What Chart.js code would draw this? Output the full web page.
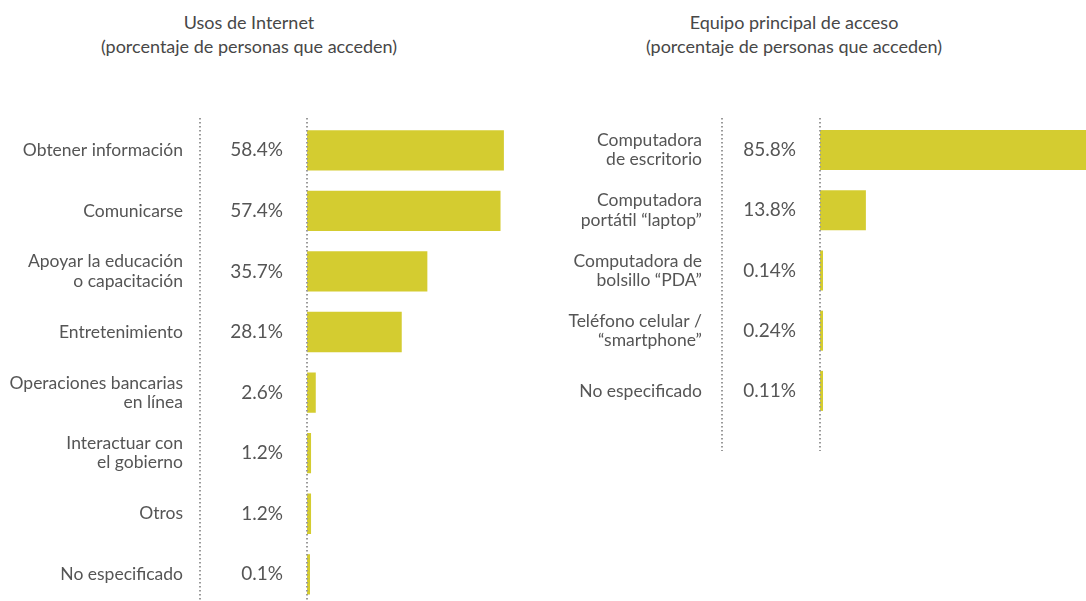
<!DOCTYPE html>
<html lang="es">
<head>
<meta charset="utf-8">
<title>Usos de Internet y equipo de acceso</title>
<script src="https://cdn.jsdelivr.net/npm/chart.js@4.4.0/dist/chart.umd.min.js"></script>
<style>
    html, body { margin: 0; padding: 0; background: #fff; overflow: hidden; }
    body { width: 1086px; height: 601px; position: relative; font-family: Lato, "Open Sans", sans-serif; }
    canvas { position: absolute; top: 0; }
    #usosChart { left: 0; }
    #equipoChart { left: 543px; }
    .panel-title {
        position: absolute; top: 10px; width: 440px; margin: 0;
        text-align: center; font-size: 18px; font-weight: 400; line-height: 24px;
        color: #474747;
    }
</style>
</head>
<body>

<h2 class="panel-title" style="left: 29px;">Usos de Internet<br>(porcentaje de personas que acceden)</h2>
<h2 class="panel-title" style="left: 574px;">Equipo principal de acceso<br>(porcentaje de personas que acceden)</h2>

<!-- the left panel runs past the bottom edge of the page -->
<canvas id="usosChart" width="543" height="640"></canvas>
<canvas id="equipoChart" width="543" height="601"></canvas>

<script>
// ==================== DATA ====================

const usosLabels = [
    'Obtener información',
    'Comunicarse',
    ['Apoyar la educación', 'o capacitación'],
    'Entretenimiento',
    ['Operaciones bancarias', 'en línea'],
    ['Interactuar con', 'el gobierno'],
    'Otros',
    'No especificado'
];
const usosValues = [58.4, 57.4, 35.7, 28.1, 2.6, 1.2, 1.2, 0.1];

const equipoLabels = [
    ['Computadora', 'de escritorio'],
    ['Computadora', 'portátil “laptop”'],
    ['Computadora de', 'bolsillo “PDA”'],
    ['Teléfono celular /', '“smartphone”'],
    'No especificado'
];
const equipoValues = [85.8, 13.8, 0.14, 0.24, 0.11];

const BAR_COLOR = '#d4cc30';
const TEXT_COLOR = '#555555';
const DOT_COLOR = '#9a9a9a';
const FONT_FAMILY = 'Lato, "Open Sans", sans-serif';

// ==================== PLUGIN: dotted guides ====================

const dottedGuides = {
    id: 'dottedGuides',
    afterDatasetsDraw(chart) {
        const { ctx, chartArea } = chart;
        const band = (chartArea.bottom - chartArea.top) / chart.data.labels.length;
        const xs = [chart.scales.yValue.left, chartArea.left];

        ctx.save();
        ctx.strokeStyle = DOT_COLOR;
        ctx.lineWidth = 2;
        ctx.setLineDash([1.5, 2.5]);
        xs.forEach(x => {
            ctx.beginPath();
            ctx.moveTo(x, chartArea.top - 2);
            ctx.lineTo(x, chartArea.bottom + band / 2);
            ctx.stroke();
        });
        ctx.restore();
    }
};

function buildChart(canvasId, labels, values, cfg) {
    return new Chart(document.getElementById(canvasId), {
        type: 'bar',
        data: {
            labels: labels,
            datasets: [{
                data: values,
                backgroundColor: BAR_COLOR,
                borderWidth: 0,
                categoryPercentage: 1,
                barPercentage: 0.665,
                minBarLength: 3
            }]
        },
        options: {
            indexAxis: 'y',
            responsive: false,
            animation: false,
            devicePixelRatio: 1,
            layout: { padding: { top: 120, bottom: cfg.bottomPad, left: 0, right: 0 } },
            scales: {
                x: { display: false, min: 0, max: cfg.xMax },
                // category names (outer column)
                y: {
                    weight: 1,
                    grid: { display: false, drawTicks: false },
                    border: { display: false },
                    afterFit: scale => { scale.width = cfg.labelWidth; },
                    ticks: {
                        padding: cfg.labelPad,
                        color: TEXT_COLOR,
                        font: { family: FONT_FAMILY, size: 17.5, lineHeight: 1.1 }
                    }
                },
                // percentage column between the two guides
                yValue: {
                    type: 'category',
                    position: 'left',
                    weight: 0,
                    labels: values.map(v => v + '%'),
                    grid: { display: false, drawTicks: false },
                    border: { display: false },
                    afterFit: scale => { scale.width = cfg.valueWidth; },
                    ticks: {
                        padding: 24,
                        color: TEXT_COLOR,
                        font: { family: FONT_FAMILY, size: 19 }
                    }
                }
            },
            plugins: {
                legend: { display: false },
                tooltip: { enabled: false }
            }
        },
        plugins: [dottedGuides]
    });
}

// ==================== CHARTS ====================

buildChart('usosChart', usosLabels, usosValues, {
    labelWidth: 200, labelPad: 17, valueWidth: 107, xMax: 70, bottomPad: 0
});

buildChart('equipoChart', equipoLabels, equipoValues, {
    labelWidth: 179, labelPad: 20, valueWidth: 98, xMax: 80, bottomPad: 180
});
</script>
</body>
</html>
